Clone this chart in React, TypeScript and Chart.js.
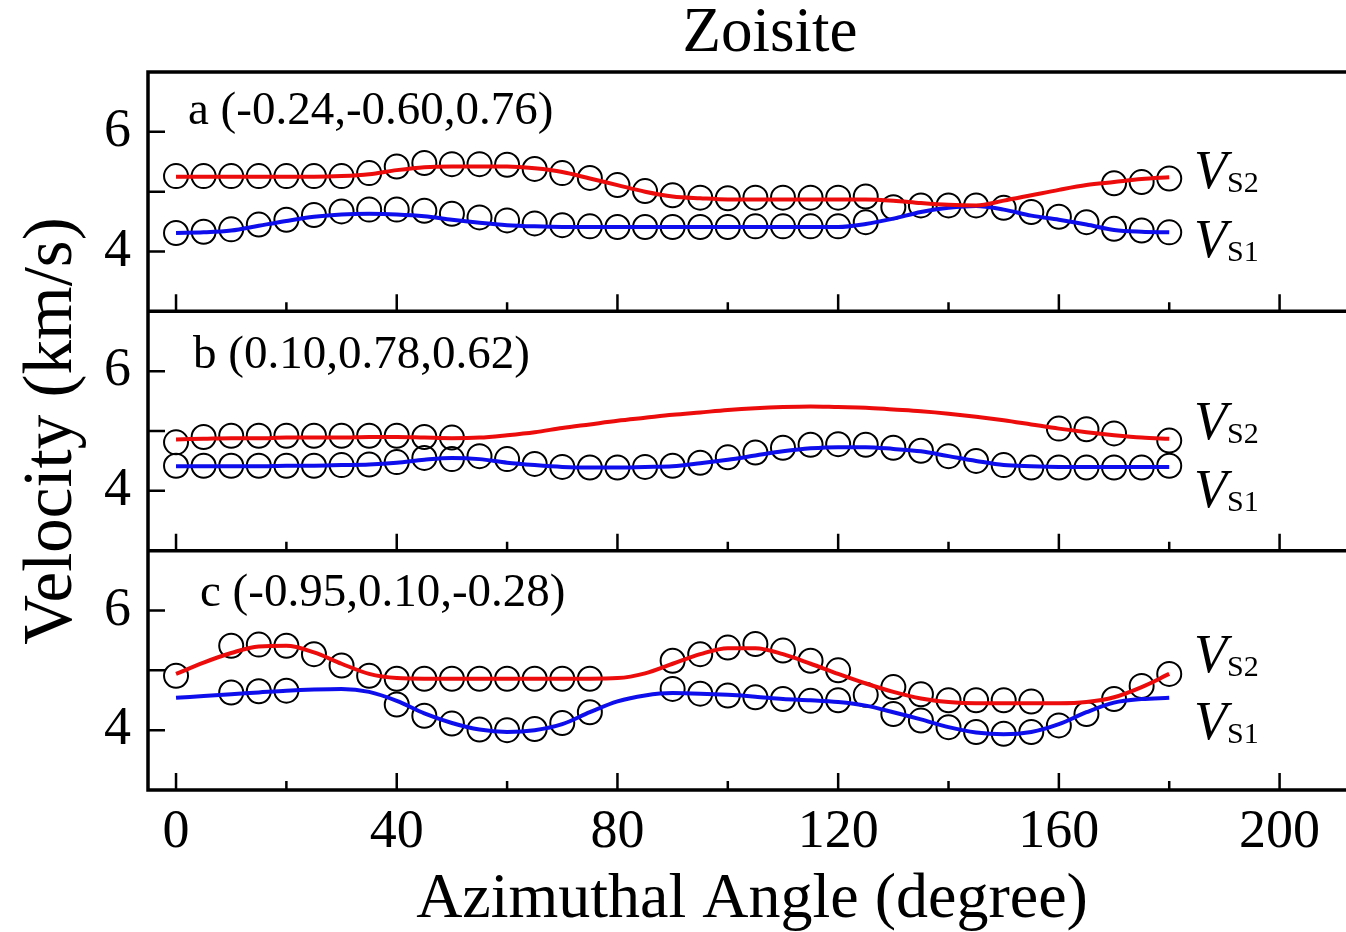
import React, { useEffect, useRef } from 'react';
import { Chart, registerables } from 'chart.js';

Chart.register(...registerables);

// Azimuthal angles (degree) shared by every series
const angles = [0, 5, 10, 15, 20, 25, 30, 35, 40, 45, 50, 55, 60, 65, 70, 75, 80, 85, 90, 95, 100, 105, 110, 115, 120, 125, 130, 135, 140, 145, 150, 155, 160, 165, 170, 175, 180];

// Panel a: measured shear velocities (km/s)
const aVs2 = [5.26, 5.26, 5.26, 5.26, 5.26, 5.26, 5.26, 5.31, 5.42, 5.48, 5.46, 5.46, 5.45, 5.38, 5.31, 5.23, 5.11, 5.01, 4.94, 4.90, 4.89, 4.90, 4.90, 4.90, 4.90, 4.92, null, null, null, null, null, null, null, null, 5.14, 5.16, 5.22];
const aVs1 = [4.31, 4.33, 4.37, 4.45, 4.53, 4.61, 4.67, 4.70, 4.70, 4.68, 4.63, 4.57, 4.52, 4.47, 4.44, 4.42, 4.41, 4.41, 4.41, 4.41, 4.41, 4.42, 4.42, 4.42, 4.42, 4.49, 4.74, 4.77, 4.77, 4.77, 4.73, 4.66, 4.58, 4.49, 4.38, 4.35, 4.32];
// Panel a: calculated curves
const aFit2 = [5.25, 5.25, 5.25, 5.25, 5.25, 5.25, 5.26, 5.29, 5.36, 5.41, 5.42, 5.42, 5.42, 5.39, 5.33, 5.22, 5.11, 5.00, 4.92, 4.89, 4.87, 4.87, 4.87, 4.87, 4.87, 4.87, 4.85, 4.81, 4.78, 4.77, 4.85, 4.94, 5.03, 5.11, 5.16, 5.21, 5.24];
const aFit1 = [4.31, 4.32, 4.35, 4.43, 4.51, 4.58, 4.62, 4.63, 4.62, 4.59, 4.53, 4.48, 4.44, 4.42, 4.41, 4.41, 4.41, 4.41, 4.41, 4.41, 4.41, 4.41, 4.41, 4.41, 4.41, 4.46, 4.55, 4.66, 4.73, 4.76, 4.70, 4.60, 4.53, 4.45, 4.36, 4.33, 4.32];

// Panel b
const bVs2 = [4.81, 4.90, 4.92, 4.92, 4.92, 4.92, 4.92, 4.92, 4.92, 4.90, 4.89, null, null, null, null, null, null, null, null, null, null, null, null, null, null, null, null, null, null, null, null, null, 5.04, 5.03, 4.96, null, 4.84];
const bVs1 = [4.42, 4.42, 4.42, 4.42, 4.42, 4.42, 4.43, 4.44, 4.48, 4.55, 4.53, 4.58, 4.53, 4.45, 4.40, 4.39, 4.39, 4.40, 4.42, 4.47, 4.56, 4.64, 4.72, 4.77, 4.78, 4.77, 4.72, 4.67, 4.58, 4.50, 4.43, 4.39, 4.39, 4.39, 4.39, 4.39, 4.42];
const bFit2 = [4.86, 4.87, 4.88, 4.88, 4.89, 4.89, 4.89, 4.90, 4.90, 4.89, 4.88, 4.89, 4.93, 4.98, 5.05, 5.11, 5.17, 5.22, 5.27, 5.31, 5.35, 5.38, 5.40, 5.41, 5.40, 5.39, 5.36, 5.33, 5.29, 5.24, 5.18, 5.11, 5.04, 4.98, 4.93, 4.89, 4.87];
const bFit1 = [4.41, 4.41, 4.41, 4.41, 4.42, 4.42, 4.43, 4.44, 4.47, 4.52, 4.55, 4.53, 4.47, 4.43, 4.40, 4.39, 4.39, 4.40, 4.41, 4.46, 4.52, 4.59, 4.66, 4.71, 4.73, 4.73, 4.70, 4.66, 4.58, 4.50, 4.43, 4.41, 4.40, 4.40, 4.40, 4.40, 4.40];

// Panel c
const cVs2 = [4.91, null, 5.41, 5.43, 5.41, 5.27, 5.08, 4.91, 4.86, 4.86, 4.86, 4.86, 4.86, 4.86, 4.86, 4.86, null, null, 5.16, 5.27, 5.38, 5.44, 5.33, 5.16, 5.00, null, 4.72, 4.60, 4.50, 4.50, 4.50, 4.48, null, null, 4.52, 4.74, 4.94];
const cVs1 = [null, null, 4.63, 4.65, 4.66, null, null, null, 4.43, 4.24, 4.11, 4.01, 4.00, 4.02, 4.12, 4.30, null, null, 4.69, 4.61, 4.58, 4.55, 4.52, 4.49, 4.50, 4.59, 4.27, 4.16, 4.05, 3.97, 3.94, 3.97, 4.08, 4.27, null, null, null];
const cFit2 = [4.94, 5.13, 5.29, 5.40, 5.41, 5.30, 5.11, 4.94, 4.87, 4.86, 4.86, 4.86, 4.86, 4.86, 4.86, 4.86, 4.87, 4.95, 5.11, 5.27, 5.37, 5.37, 5.27, 5.11, 4.94, 4.78, 4.64, 4.53, 4.47, 4.45, 4.45, 4.45, 4.45, 4.47, 4.55, 4.72, 4.94];
const cFit1 = [4.54, 4.57, 4.60, 4.63, 4.66, 4.68, 4.69, 4.64, 4.49, 4.28, 4.12, 4.01, 3.97, 4.00, 4.10, 4.30, 4.48, 4.58, 4.62, 4.61, 4.59, 4.56, 4.52, 4.50, 4.47, 4.41, 4.30, 4.18, 4.05, 3.96, 3.93, 3.97, 4.10, 4.30, 4.46, 4.52, 4.54];

// Propagation directions shown in each panel
const panelTitles = ['a (-0.24,-0.60,0.76)', 'b (0.10,0.78,0.62)', 'c (-0.95,0.10,-0.28)'];
const yTickLabels = [4, 6];
const xTickLabels = [0, 40, 80, 120, 160, 200];

const SERIF = '"Liberation Serif", "Times New Roman", serif';
const RED = 'rgb(236, 12, 12)';
const BLUE = 'rgb(14, 14, 236)';

const toPoints = (vals: (number | null)[]) => angles.map((a, i) => ({ x: a, y: vals[i] }));

const panels = [
  { id: 'ya', title: panelTitles[0], vs2: aVs2, vs1: aVs1, fit2: aFit2, fit1: aFit1, titleX: 188, titleDy: 52, vs2Dy: 116, vs1Dy: 185 },
  { id: 'yb', title: panelTitles[1], vs2: bVs2, vs1: bVs1, fit2: bFit2, fit1: bFit1, titleX: 193, titleDy: 57, vs2Dy: 128, vs1Dy: 196 },
  { id: 'yc', title: panelTitles[2], vs2: cVs2, vs1: cVs1, fit2: cFit2, fit1: cFit1, titleX: 200, titleDy: 55, vs2Dy: 121, vs1Dy: 188 },
];

// Frame, inward tick marks and all free text
const decorations = {
  id: 'decorations',
  afterDraw(chart: any) {
    const ctx = chart.ctx as CanvasRenderingContext2D;
    const area = chart.chartArea;
    const xs = chart.scales.x;
    const rightEdge = chart.width;
    ctx.save();
    ctx.strokeStyle = '#000';
    ctx.fillStyle = '#000';

    // tick marks pointing into each panel
    ctx.lineWidth = 2.5;
    ctx.beginPath();
    panels.forEach((p) => {
      const ys = chart.scales[p.id];
      xs.ticks.forEach((t: any) => {
        const px = xs.getPixelForValue(t.value);
        const len = t.value % 40 === 0 ? 17 : 9;
        ctx.moveTo(px, ys.bottom);
        ctx.lineTo(px, ys.bottom - len);
      });
      ys.ticks.forEach((t: any) => {
        if (t.value <= ys.min || t.value >= ys.max) return;
        const py = ys.getPixelForValue(t.value);
        ctx.moveTo(area.left, py);
        ctx.lineTo(area.left + 17, py);
      });
    });
    ctx.stroke();

    // panel frames
    ctx.lineWidth = 3.5;
    ctx.beginPath();
    ctx.moveTo(area.left, area.top);
    ctx.lineTo(area.left, area.bottom);
    panels.forEach((p) => {
      const ys = chart.scales[p.id];
      ctx.moveTo(area.left - 1.75, ys.top);
      ctx.lineTo(rightEdge, ys.top);
      ctx.moveTo(area.left - 1.75, ys.bottom);
      ctx.lineTo(rightEdge, ys.bottom);
    });
    ctx.stroke();

    // panel captions and curve names
    panels.forEach((p) => {
      const ys = chart.scales[p.id];
      ctx.textAlign = 'left';
      ctx.textBaseline = 'alphabetic';
      ctx.font = `47px ${SERIF}`;
      ctx.fillText(p.title, p.titleX, ys.top + p.titleDy);
      const drawV = (sub: string, dy: number) => {
        const x0 = 1194;
        ctx.font = `italic 54px ${SERIF}`;
        ctx.fillText('V', x0, ys.top + dy);
        const w = ctx.measureText('V').width;
        ctx.font = `30px ${SERIF}`;
        ctx.fillText(sub, x0 + w, ys.top + dy + 4);
      };
      drawV('S2', p.vs2Dy);
      drawV('S1', p.vs1Dy);
    });

    // chart title and axis titles
    ctx.textAlign = 'center';
    ctx.font = `63px ${SERIF}`;
    ctx.fillText('Zoisite', 770, 51);
    ctx.font = `64px ${SERIF}`;
    ctx.fillText('Azimuthal Angle (degree)', 752, 917);
    ctx.translate(71, 431);
    ctx.rotate(-Math.PI / 2);
    ctx.font = `69px ${SERIF}`;
    ctx.fillText('Velocity (km/s)', 0, 0);
    ctx.restore();
  },
};

const yScale = (weight: number) => ({
  type: 'linear',
  position: 'left',
  stack: 'panels',
  stackWeight: 1,
  weight,
  min: 3,
  max: 7,
  grid: { display: false, drawTicks: false },
  border: { display: false },
  ticks: {
    stepSize: 1,
    autoSkip: false,
    padding: 17,
    color: '#000',
    font: { family: SERIF, size: 54 },
    callback: (v: number) => (yTickLabels.includes(v) ? String(v) : ''),
  },
  afterFit: (s: any) => {
    s.width = 148;
    s.paddingTop = 0;
    s.paddingBottom = 0;
  },
});

export default function App() {
  const canvasRef = useRef<HTMLCanvasElement | null>(null);

  useEffect(() => {
    if (!canvasRef.current) return;
    const datasets: any[] = [];
    panels.forEach((p) => {
      datasets.push(
        {
          label: 'Vs2 fit',
          data: toPoints(p.fit2),
          yAxisID: p.id,
          borderColor: RED,
          borderWidth: 4,
          pointRadius: 0,
          cubicInterpolationMode: 'monotone',
          order: 0,
        },
        {
          label: 'Vs1 fit',
          data: toPoints(p.fit1),
          yAxisID: p.id,
          borderColor: BLUE,
          borderWidth: 4,
          pointRadius: 0,
          cubicInterpolationMode: 'monotone',
          order: 0,
        },
        {
          label: 'Vs2',
          data: toPoints(p.vs2),
          yAxisID: p.id,
          showLine: false,
          pointRadius: 12,
          pointBorderWidth: 2,
          pointBorderColor: '#000',
          pointBackgroundColor: 'rgba(0,0,0,0)',
          order: 1,
        },
        {
          label: 'Vs1',
          data: toPoints(p.vs1),
          yAxisID: p.id,
          showLine: false,
          pointRadius: 12,
          pointBorderWidth: 2,
          pointBorderColor: '#000',
          pointBackgroundColor: 'rgba(0,0,0,0)',
          order: 1,
        }
      );
    });

    const chart = new Chart(canvasRef.current, {
      type: 'line',
      data: { datasets },
      options: {
        responsive: false,
        animation: false,
        events: [],
        layout: { padding: { top: 72, left: 0, right: 0, bottom: 0 } },
        plugins: { legend: { display: false }, tooltip: { enabled: false }, title: { display: false } },
        scales: {
          x: {
            type: 'linear',
            position: 'bottom',
            min: -5.08,
            max: 209.5,
            grid: { display: false, drawTicks: false },
            border: { display: false },
            ticks: {
              stepSize: 20,
              includeBounds: false,
              autoSkip: false,
              maxRotation: 0,
              padding: 10,
              color: '#000',
              font: { family: SERIF, size: 54 },
              callback: (v: number) => (xTickLabels.includes(v) ? String(v) : ''),
            },
            afterFit: (s: any) => {
              s.height = 142;
              s.paddingLeft = 0;
              s.paddingRight = 0;
            },
          },
          ya: yScale(3),
          yb: yScale(2),
          yc: yScale(1),
        } as any,
      },
      plugins: [decorations],
    });
    return () => chart.destroy();
  }, []);

  return (
    <div style={{ position: 'absolute', left: 0, top: 0, width: 1346, height: 932, background: '#fff' }}>
      <canvas ref={canvasRef} width={1346} height={932} style={{ display: 'block' }} />
    </div>
  );
}
